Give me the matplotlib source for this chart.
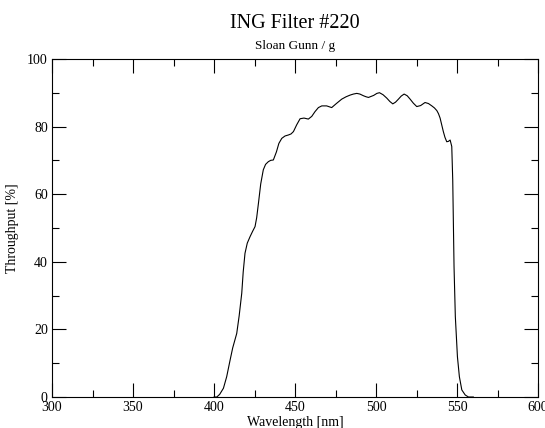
import matplotlib
matplotlib.use("Agg")
import matplotlib.pyplot as plt

# filter curve
wavelength = [400, 401.7, 403.5, 405.8, 407.8, 409.9, 411.5, 414, 415.5, 417.1,
              418, 419.1, 420.5, 422.2, 423.8, 425.3, 426.3, 427.4, 428.8, 430.4,
              431.8, 433.5, 435, 436.6, 438.5, 440, 441.8, 443.8, 445.9, 447.5,
              449, 451, 453.1, 455.5, 458.2, 460.3, 462.3, 464.4, 466.5, 469.5,
              472.6, 475.5, 478.8, 481.5, 484, 486, 488.1, 490, 492.2, 493.8,
              495.3, 498.5, 500.5, 502.1, 504.3, 506.6, 508.5, 510.3, 512, 513.8,
              515.5, 517.3, 519.2, 521, 523, 525.1, 527.5, 530.2, 532.3, 534.4,
              536, 537.5, 538.5, 539.5, 540.5, 541.5, 542.5, 543.6, 544.6, 545.7,
              546.7, 547.3, 548.1, 548.9, 550.2, 551.4, 552.9, 555, 557, 560]
throughput = [0, 0, 0.8, 2.6, 6, 10.9, 14.5, 18.8, 24, 30.7,
              37, 42.5, 45.5, 47.4, 49, 50.4, 53, 57.3, 63, 67.2,
              68.8, 69.6, 70, 70.1, 72.5, 75, 76.5, 77.2, 77.5, 77.8,
              78.5, 80.5, 82.3, 82.5, 82.2, 83, 84.4, 85.6, 86.1, 86.1,
              85.6, 86.8, 88.1, 88.8, 89.3, 89.6, 89.8, 89.6, 89.1, 88.8,
              88.6, 89.2, 89.8, 90.0, 89.4, 88.4, 87.4, 86.7, 87.2, 88.1,
              89, 89.6, 89.1, 88.1, 86.9, 85.9, 86.2, 87.1, 86.8, 86.1,
              85.5, 84.7, 83.8, 82.5, 80.5, 78.5, 76.8, 75.5, 75.6, 76,
              74.1, 64.2, 38.6, 23.8, 11.9, 6, 2.1, 0.6, 0, 0]

title = "ING Filter #220"
subtitle = "Sloan Gunn / g"

plt.rcParams['font.family'] = ['Liberation Serif', 'DejaVu Serif']

fig = plt.figure(figsize=(5.45, 4.28), dpi=100)
ax = fig.add_axes([0.0954, 0.0724, 0.892, 0.79])
ax.plot(wavelength, throughput, color='black', linewidth=0.8)

ax.set_xlim(300, 600)
ax.set_ylim(0, 100)
ax.set_xticks(range(300, 601, 50))
ax.set_xticks(range(300, 601, 25), minor=True)
ax.set_yticks(range(0, 101, 20))
ax.set_yticks(range(0, 101, 10), minor=True)
ax.tick_params(which='both', direction='in', top=True, right=True, labelsize=10, pad=3)
ax.tick_params(which='major', length=10, width=0.8)
ax.tick_params(which='minor', length=5, width=0.8)
for s in ax.spines.values():
    s.set_linewidth(0.8)

ax.set_xlabel("Wavelength [nm]", fontsize=10, labelpad=1)
ax.set_ylabel("Throughput [%]", fontsize=10, labelpad=6)

fig.text(0.5413, 0.946, title, ha='center', va='center', fontsize=14.5)
fig.text(0.5413, 0.893, subtitle, ha='center', va='center', fontsize=9.5)

fig.savefig("out.png", dpi=100)
